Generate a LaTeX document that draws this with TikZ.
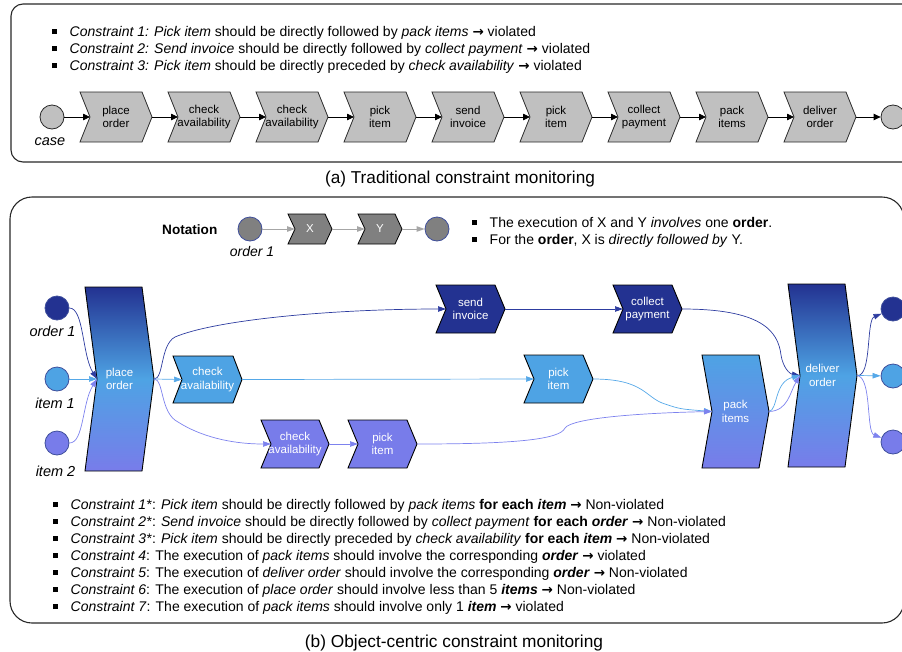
\documentclass[tikz,border=0pt]{standalone}
\usepackage{fontspec}
\setmainfont{Liberation Sans}
\newfontfamily\arrfont{DejaVu Sans}
\usetikzlibrary{arrows.meta}
\definecolor{darkb}{RGB}{35,50,145}
\definecolor{lightb}{RGB}{78,163,228}
\definecolor{purp}{RGB}{120,124,234}
\definecolor{edark}{RGB}{45,60,160}
\definecolor{elight}{RGB}{85,168,232}
\definecolor{epurp}{RGB}{125,130,238}
\definecolor{circb}{RGB}{62,78,155}
\definecolor{gchevf}{RGB}{192,192,192}
\definecolor{nogray}{RGB}{128,128,128}
\definecolor{pline}{RGB}{40,40,40}
\newcommand\fsz[2]{\fontsize{#1}{#2}\selectfont}
\newcommand\rarr{{\arrfont\bfseries\fontsize{13.5}{14}\selectfont →}}
\newcommand\mkchev[9]{%
  \path[#7] (#2,#4) -- ({#3-#6},#4) -- (#3,{(#4+#5)/2}) -- ({#3-#6},#5) -- (#2,#5) -- ({#2+#6},{(#4+#5)/2}) -- cycle;
  \coordinate (#1-in) at ({#2+#6},{(#4+#5)/2});
  \coordinate (#1-out) at (#3,{(#4+#5)/2});
  \node[#9] (#1) at ({(#2+#3)/2},{(#4+#5)/2}) {#8};}
\newcommand\bitem[4]{\node[btext] (#1) at (#2,#3) {\rule[2pt]{5pt}{5pt}\hspace{12.5pt}#4};}
\begin{document}
\begin{tikzpicture}[x=1pt,y=-1pt,
  panel/.style={draw=pline, line width=1.1pt},
  btext/.style={anchor=base west, inner sep=0pt, font=\fsz{14}{17}},
  ctext/.style={align=center, inner sep=0pt, font=\fsz{11.5}{13.5}, text=black},
  wtext/.style={ctext, text=white},
  lab/.style={anchor=base, inner sep=0pt, font=\fsz{14.5}{17}\itshape},
  gchev/.style={draw=pline, fill=gchevf, line width=0.8pt},
  nchev/.style={draw=black, fill=nogray, line width=0.8pt},
  dchev/.style={draw=black, fill=darkb, line width=0.9pt},
  lchev/.style={draw=black, fill=lightb, line width=0.9pt},
  pchev/.style={draw=black, fill=purp, line width=0.9pt},
  bigchev/.style={draw=black, line width=0.9pt, top color=darkb, bottom color=purp, middle color=lightb},
  packchev/.style={draw=black, line width=0.9pt, top color=lightb, bottom color=purp},
  gcirc/.style={circle, minimum size=24pt, inner sep=0pt, draw=pline, fill=gchevf, line width=0.8pt},
  ncirc/.style={circle, minimum size=24pt, inner sep=0pt, draw=circb, fill=nogray, line width=0.8pt},
  dcirc/.style={circle, minimum size=24pt, inner sep=0pt, draw=circb, fill=darkb, line width=0.8pt},
  lcirc/.style={circle, minimum size=24pt, inner sep=0pt, draw=circb, fill=lightb, line width=0.8pt},
  pcirc/.style={circle, minimum size=24pt, inner sep=0pt, draw=circb, fill=purp, line width=0.8pt},
  tarr/.style={draw=black, line width=0.8pt, -{Triangle[length=7pt,width=6.5pt]}},
  narr/.style={draw=black!35, line width=0.9pt, -{Triangle[length=8pt,width=5.5pt]}},
  ea/.style={line width=0.7pt, -{Triangle[length=8pt,width=5.5pt]}},
  ed/.style={ea, draw=edark},
  el/.style={ea, draw=elight},
  ep/.style={ea, draw=epurp}
]
\useasboundingbox (0,0) rectangle (902,651);

% ---------- panel (a) ----------
\draw[panel, rounded corners=12pt] (11,4) rectangle (940,162);
\bitem{a1}{52}{36}{\textit{Constraint 1: Pick item} should be directly followed by \textit{pack items} \rarr{} violated}
\bitem{a2}{52}{53}{\textit{Constraint 2: Send invoice} should be directly followed by \textit{collect payment} \rarr{} violated}
\bitem{a3}{52}{70}{\textit{Constraint 3: Pick item} should be directly preceded by \textit{check availability} \rarr{} violated}

\node[gcirc] (c0) at (52,117) {};
\node[lab] (caselab) at (50,145) {case};
\mkchev{t1}{80}{152}{92}{142}{10}{gchev}{place\\order}{ctext}
\mkchev{t2}{168}{240}{92}{142}{10}{gchev}{check\\availability}{ctext}
\mkchev{t3}{256}{328}{92}{142}{10}{gchev}{check\\availability}{ctext}
\mkchev{t4}{344}{416}{92}{142}{10}{gchev}{pick\\item}{ctext}
\mkchev{t5}{432}{504}{92}{142}{10}{gchev}{send\\invoice}{ctext}
\mkchev{t6}{520}{592}{92}{142}{10}{gchev}{pick\\item}{ctext}
\mkchev{t7}{608}{680}{92}{142}{10}{gchev}{collect\\payment}{ctext}
\mkchev{t8}{696}{768}{92}{142}{10}{gchev}{pack\\items}{ctext}
\mkchev{t9}{784}{856}{92}{142}{10}{gchev}{deliver\\order}{ctext}
\node[gcirc] (ce) at (893,117) {};
\draw[tarr] (c0) -- (t1-in);
\draw[tarr] (t1-out) -- (t2-in);
\draw[tarr] (t2-out) -- (t3-in);
\draw[tarr] (t3-out) -- (t4-in);
\draw[tarr] (t4-out) -- (t5-in);
\draw[tarr] (t5-out) -- (t6-in);
\draw[tarr] (t6-out) -- (t7-in);
\draw[tarr] (t7-out) -- (t8-in);
\draw[tarr] (t8-out) -- (t9-in);
\draw[tarr] (t9-out) -- (ce);

\node[anchor=base, inner sep=0pt, font=\fsz{17.2}{20}] (capa) at (460,183) {(a) Traditional constraint monitoring};

% ---------- panel (b) ----------
\draw[panel, rounded corners=22pt] (10,197) rectangle (904,623);

% notation
\node[anchor=base west, inner sep=0pt, font=\fsz{13.6}{16}\bfseries] (nottitle) at (162,234) {Notation};
\node[ncirc] (nc1) at (250,229) {};
\node[lab, font=\fsz{14}{17}\itshape] (nord) at (252,256) {order 1};
\mkchev{nx}{288}{332}{214}{244}{7}{nchev}{X}{wtext}
\mkchev{ny}{358}{402}{214}{244}{7}{nchev}{Y}{wtext}
\node[ncirc] (nc2) at (437,229) {};
\draw[narr] (nc1) -- (nx-in);
\draw[narr] (nx-out) -- (ny-in);
\draw[narr] (ny-out) -- (nc2);
\bitem{n1}{472}{227}{The execution of X and Y \textit{involves} one \textbf{order}.}
\bitem{n2}{472}{244}{For the \textbf{order}, X is \textit{directly followed by} Y.}

% start objects
\node[dcirc] (o1) at (57,308) {};
\node[lcirc] (i1) at (57,379) {};
\node[pcirc] (i2) at (57,443) {};
\node[lab] (o1lab) at (52.5,336) {order 1};
\node[lab] (i1lab) at (55,408) {item 1};
\node[lab] (i2lab) at (55.5,476) {item 2};

% activities
\mkchev{po}{85}{154}{287}{471}{12}{bigchev}{place\\order}{wtext}
\mkchev{si}{436}{505}{285}{333}{10}{dchev}{send\\invoice}{wtext}
\mkchev{cp}{613}{682}{285}{333}{10}{dchev}{collect\\payment}{wtext}
\mkchev{ca1}{173}{242}{356}{403}{9}{lchev}{check\\availability}{wtext}
\mkchev{pi1}{524}{593}{355}{403}{10}{lchev}{pick\\item}{wtext}
\mkchev{ca2}{261}{329}{420}{468}{10}{pchev}{check\\availability}{wtext}
\mkchev{pi2}{348}{417}{420}{468}{10}{pchev}{pick\\item}{wtext}
\mkchev{pk}{702}{769}{355}{468}{10}{packchev}{pack\\items}{wtext}
\mkchev{do}{788}{857}{284}{467}{12}{bigchev}{deliver\\order}{wtext}

% end objects
\node[dcirc] (oe) at (893,309) {};
\node[lcirc] (ie1) at (893,376) {};
\node[pcirc] (ie2) at (893,442) {};

% connectors
\draw[ed] (o1.east) .. controls (84,308) and (82,355) .. (po-in);
\draw[el] (i1) -- (po-in);
\draw[ep] (i2.east) .. controls (84,443) and (82,403) .. (po-in);
\draw[ed] (po-out) .. controls (164,379) and (160,345) .. (175,337) .. controls (215,320) and (330,309) .. (si-in);
\draw[el] (po-out) -- (ca1-in);
\draw[ep] (po-out) .. controls (164,379) and (160,413) .. (178,422) .. controls (200,436) and (230,444) .. (ca2-in);
\draw[el] (ca1-out) -- (pi1-in);
\draw[ep] (ca2-out) -- (pi2-in);
\draw[ed] (si-out) -- (cp-in);
\draw[ed] (cp-out) .. controls (760,309) and (778,330) .. (781,355) .. controls (783,368) and (790,374) .. (do-in);
\draw[el] (pi1-out) .. controls (645,379) and (645,398) .. (665,404) .. controls (680,409) .. (pk-in);
\draw[ep] (pi2-out) .. controls (510,444) and (560,440) .. (565,428) .. controls (572,418) and (640,413) .. (pk-in);
\draw[el] (pk-out) .. controls (778,410) and (774,382) .. (do-in);
\draw[ep] (pk-out) .. controls (788,411) and (790,392) .. (do-in);
\draw[ed] (do-out) .. controls (872,377) and (866,320) .. (oe);
\draw[el] (do-out) -- (ie1);
\draw[ep] (do-out) .. controls (872,377) and (866,432) .. (ie2);

% constraints
\bitem{b1}{53}{509}{\textit{Constraint 1*}: \textit{Pick item} should be directly followed by \textit{pack items} \textbf{for each \textit{item}} \rarr{} Non-violated}
\bitem{b2}{53}{526}{\textit{Constraint 2*}: \textit{Send invoice} should be directly followed by \textit{collect payment} \textbf{for each \textit{order}} \rarr{} Non-violated}
\bitem{b3}{53}{543}{\textit{Constraint 3*}: \textit{Pick item} should be directly preceded by \textit{check availability} \textbf{for each \textit{item}} \rarr{} Non-violated}
\bitem{b4}{53}{560}{\textit{Constraint 4}: The execution of \textit{pack items} should involve the corresponding \textbf{\textit{order}} \rarr{} violated}
\bitem{b5}{53}{577}{\textit{Constraint 5}: The execution of \textit{deliver order} should involve the corresponding \textbf{\textit{order}} \rarr{} Non-violated}
\bitem{b6}{53}{594}{\textit{Constraint 6}: The execution of \textit{place order} should involve less than 5 \textbf{\textit{items}} \rarr{} Non-violated}
\bitem{b7}{53}{611}{\textit{Constraint 7}: The execution of \textit{pack items} should involve only 1 \textbf{\textit{item}} \rarr{} violated}

\node[anchor=base, inner sep=0pt, font=\fsz{17.3}{20}] (capb) at (454,647) {(b) Object-centric constraint monitoring};
\end{tikzpicture}
\end{document}
